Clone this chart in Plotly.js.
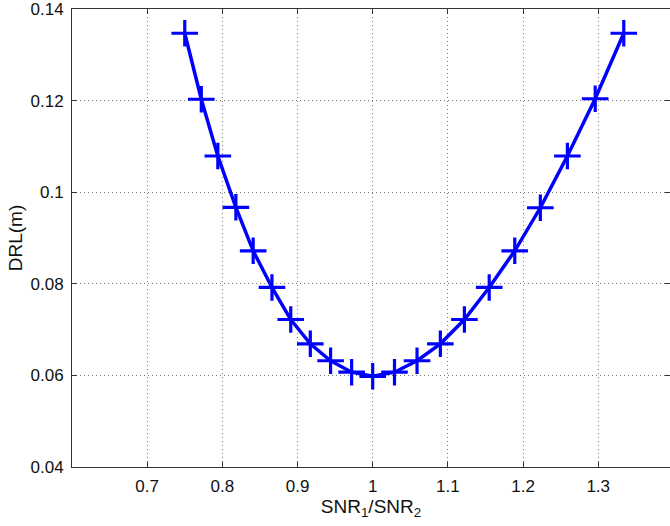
<!DOCTYPE html>
<html>
<head>
<meta charset="utf-8">
<script src="https://cdn.plot.ly/plotly-3.0.1.min.js"></script>
<style>html,body{margin:0;padding:0;background:#fff;}#chart{width:670px;height:526px;}</style>
</head>
<body>
<div id="chart"></div>
<script>
const snrRatio = [0.750, 0.772, 0.794, 0.818, 0.841, 0.866, 0.891, 0.917, 0.944, 0.972, 1.000,
                  1.029, 1.059, 1.090, 1.122, 1.155, 1.189, 1.223, 1.259, 1.296, 1.334];
const drl = [0.1347, 0.1203, 0.1079, 0.0967, 0.0872, 0.0792, 0.0722, 0.0669, 0.0632, 0.0607, 0.0598,
             0.0607, 0.0632, 0.0669, 0.0722, 0.0792, 0.0872, 0.0966, 0.1079, 0.1204, 0.1347];
const xTicks = [0.7, 0.8, 0.9, 1.0, 1.1, 1.2, 1.3];
const xTickText = ['0.7', '0.8', '0.9', '1', '1.1', '1.2', '1.3'];
const yTicks = [0.04, 0.06, 0.08, 0.1, 0.12, 0.14];
const yTickText = ['0.04', '0.06', '0.08', '0.1', '0.12', '0.14'];

const trace = {
  x: snrRatio, y: drl, type: 'scatter', mode: 'lines+markers',
  line: {color: '#0000ff', width: 3.5},
  marker: {symbol: 'cross-thin', size: 19, color: '#0000ff', line: {color: '#0000ff', width: 3.2}},
  showlegend: false, cliponaxis: false
};

const axisCommon = {
  showline: true, linecolor: '#333', linewidth: 1, mirror: 'ticks',
  ticks: 'inside', ticklen: 5, tickcolor: '#333', tickwidth: 1,
  showgrid: true, gridcolor: '#777', griddash: '1px,3px', gridwidth: 1,
  zeroline: false, ticklabelstandoff: 4, ticklabeloverflow: 'allow',
  tickfont: {family: 'Liberation Sans, Arial, sans-serif', size: 17, color: '#111'}
};

const layout = {
  width: 670, height: 526,
  margin: {l: 72, r: 0, t: 9, b: 59},
  paper_bgcolor: '#fff', plot_bgcolor: '#fff',
  font: {family: 'Liberation Sans, Arial, sans-serif', size: 17, color: '#111'},
  xaxis: Object.assign({}, axisCommon, {
    range: [0.6, 1.3955], tickvals: xTicks, ticktext: xTickText,
    title: {text: 'SNR<sub>1</sub>/SNR<sub>2</sub>', font: {size: 19}, standoff: 0}
  }),
  yaxis: Object.assign({}, axisCommon, {
    range: [0.04, 0.14], tickvals: yTicks, ticktext: yTickText,
    title: {text: 'DRL(m)', font: {size: 19}, standoff: 2}
  })
};

Plotly.newPlot('chart', [trace], layout, {displayModeBar: false, staticPlot: true});
</script>
</body>
</html>
